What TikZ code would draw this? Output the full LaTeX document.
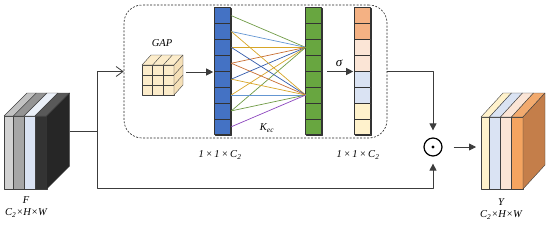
\documentclass[tikz,border=0pt]{standalone}
\usepackage{fontspec}
\setmainfont{Liberation Serif}
\usetikzlibrary{arrows.meta,calc}
\definecolor{linegray}{RGB}{60,60,60}
\definecolor{cblue}{RGB}{68,114,196}
\definecolor{cgreen}{RGB}{104,166,64}
\definecolor{corange}{RGB}{244,177,131}
\definecolor{cpink}{RGB}{251,229,214}
\definecolor{clblue}{RGB}{218,227,243}
\definecolor{cyell}{RGB}{255,242,204}
\definecolor{ydark}{RGB}{244,164,96}
\definecolor{ytop}{RGB}{242,170,110}
\definecolor{yside}{RGB}{196,126,74}
\definecolor{gfill}{RGB}{252,236,202}
\definecolor{gside}{RGB}{245,224,184}
\definecolor{kgreen}{RGB}{112,155,70}
\definecolor{klblue}{RGB}{100,150,210}
\definecolor{kyellow}{RGB}{215,165,40}
\definecolor{korange}{RGB}{200,110,50}
\definecolor{kdblue}{RGB}{50,90,170}
\definecolor{kpurple}{RGB}{140,70,190}
\newcommand{\myslab}[6]{%
  \filldraw[fill=#5,draw=black!75,line width=0.4pt] (#1,#3) rectangle (#2,#4);
  \filldraw[fill=#6,draw=black!75,line width=0.4pt] (#1,#3) -- ++(\sdx,\sdy) -- ++({#2-#1},0) -- (#2,#3) -- cycle;
}
\begin{document}
\begin{tikzpicture}[x=1pt,y=-1pt,line join=round,
  lbl/.style={font=\fontsize{10.5}{12}\selectfont\itshape, inner sep=0, align=center},
  conn/.style={draw=linegray, line width=0.8pt},
  arr/.style={conn, -{Triangle[length=7pt,width=7pt]}},
  colbox/.style={draw=black!80, line width=0.6pt, minimum width=16, minimum height=127, inner sep=0},
  cellst/.style={draw=black!80, line width=0.6pt},
  kline/.style={line width=0.7pt}]
\useasboundingbox (0,0) rectangle (550,228);

% ---- input feature F ----
\def\sdx{23}\def\sdy{-23}
\myslab{4}{13.3}{116}{189}{black!18}{black!24}
\myslab{13.3}{24}{116}{189}{black!35}{black!42}
\myslab{24}{35}{116}{189}{clblue}{clblue!55}
\myslab{35}{46.7}{116}{189}{black!80}{black!65}
\filldraw[fill=black!85,draw=black!75,line width=0.4pt] (46.7,116) -- ++(\sdx,\sdy) -- ++(0,73) -- (46.7,189) -- cycle;
\coordinate (Fout) at (69.7,131);
\node[lbl] (Flbl) at (26,207) {F\\C\textsubscript{2}×H×W};

% ---- output Y ----
\def\sdx{22}\def\sdy{-24}
\myslab{481}{489.5}{117}{189}{cyell}{cyell}
\myslab{489.5}{500.5}{117}{189}{clblue}{clblue}
\myslab{500.5}{511.5}{117}{189}{cpink}{cpink}
\myslab{511.5}{523}{117}{189}{ydark}{ytop}
\filldraw[fill=yside,draw=black!75,line width=0.4pt] (523,117) -- ++(\sdx,\sdy) -- ++(0,72) -- (523,189) -- cycle;
\coordinate (Yin) at (481,147);
\node[lbl] (Ylbl) at (501,209) {Y\\C\textsubscript{2}×H×W};

% ---- dashed ECA box ----
\node[draw=black!85, dashed, dash pattern=on 2pt off 1.5pt, line width=0.6pt, rounded corners=18pt,
      minimum width=263, minimum height=133, inner sep=0] (box) at (255.5,71.5) {};

% ---- GAP cube ----
\filldraw[fill=gfill,draw=black!75,line width=0.4pt] (142,65) rectangle (174,95);
\draw[black!75,line width=0.4pt] (152.67,65) -- (152.67,95) (163.33,65) -- (163.33,95) (142,75) -- (174,75) (142,85) -- (174,85);
\filldraw[fill=gfill,draw=black!75,line width=0.4pt] (142,65) -- (151,55) -- (183,55) -- (174,65) -- cycle;
\draw[black!75,line width=0.4pt] (152.67,65) -- (161.67,55) (163.33,65) -- (172.33,55);
\filldraw[fill=gside,draw=black!75,line width=0.4pt] (174,65) -- (183,55) -- (183,85) -- (174,95) -- cycle;
\draw[black!75,line width=0.4pt] (174,75) -- (183,65) (174,85) -- (183,75);
\coordinate (gapout) at (186,72);
\node[lbl] (gaplbl) at (162,43) {GAP};

% ---- columns ----
\node[colbox] (blue) at (223,71.5) {};
\node[colbox] (green) at (314,71.5) {};
\node[colbox] (sig) at (363,71.5) {};
\foreach \i in {1,...,8} {
  \filldraw[cellst,fill=cblue] ($(blue.north west)+(0,{(\i-1)*15.875})$) rectangle ++(16,15.875);
  \filldraw[cellst,fill=cgreen] ($(green.north west)+(0,{(\i-1)*15.875})$) rectangle ++(16,15.875);
  \coordinate (b\i) at ($(blue.north east)+(0,{(\i-0.5)*15.875})$);
  \coordinate (g\i) at ($(green.north west)+(0,{(\i-0.5)*15.875})$);
}
\foreach \i/\c in {1/corange,2/corange,3/cpink,4/cpink,5/clblue,6/clblue,7/cyell,8/cyell}
  \filldraw[cellst,fill=\c] ($(sig.north west)+(0,{(\i-1)*15.875})$) rectangle ++(16,15.875);

% ---- kernel connections ----
\foreach \s/\c in {1/kgreen,2/klblue,3/kyellow,4/korange,5/kdblue,6/kyellow,7/kgreen}
  \draw[kline,\c] (b\s) -- (g3);
\foreach \s/\c in {2/kyellow,3/kdblue,4/korange,5/kyellow,6/klblue,7/kgreen,8/kpurple}
  \draw[kline,\c] (b\s) -- (g6);
\node[lbl] (kec) at (267,128) {K\textsubscript{ec}};

% ---- labels ----
\node[lbl] (dimA) at (220,155) {1\,×\,1\,×\,C\textsubscript{2}};
\node[lbl] (dimB) at (358,155) {1\,×\,1\,×\,C\textsubscript{2}};
\node[lbl, font=\fontsize{13}{14}\selectfont\itshape] (sigl) at (339,63) {σ};

% ---- odot ----
\node[circle, draw=black, line width=1.2pt, minimum size=18, inner sep=0] (odot) at (433,147) {};
\fill (odot.center) circle (1.6);

% ---- connectors ----
\coordinate (split) at (97,131);
\coordinate (bot) at (97,188);
\draw[conn] (Fout) -- (split);
\draw[conn, -{Straight Barb[length=7pt,width=10pt]}] (split) |- (box.west);
\draw[arr, shorten >=7pt] (split) -- (bot) -| (odot.south);
\draw[arr, shorten >=7pt] (box.east) -| (odot.north);
\draw[arr, shorten <=11pt, shorten >=5pt] (odot.east) -- (Yin);
\draw[arr, shorten >=1.5pt] (gapout) -- (gapout -| blue.west);
\draw[arr, shorten <=5pt, shorten >=1.5pt] (green.east) -- (sig.west);
\end{tikzpicture}
\end{document}
